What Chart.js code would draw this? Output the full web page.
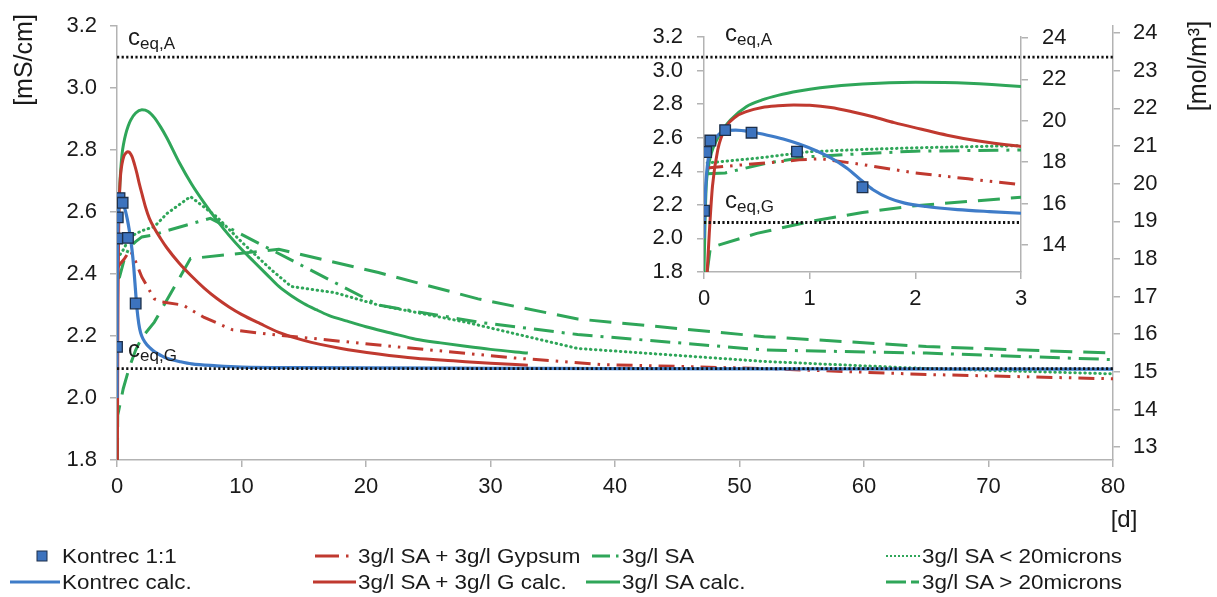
<!DOCTYPE html>
<html>
<head>
<meta charset="utf-8">
<script src="https://cdn.jsdelivr.net/npm/chart.js@4.4.1/dist/chart.umd.min.js"></script>
<style>
  html, body { margin: 0; padding: 0; background: #fff; }
  #wrap { position: relative; width: 1217px; height: 597px; overflow: hidden;
          font-family: "Liberation Sans", Arial, sans-serif; color: #1a1a1a; }
  #main { position: absolute; left: 0; top: 0; }
  #inset { position: absolute; left: 600px; top: 0; }
  #legendSwatches { position: absolute; left: 0; top: 0; }
  .lg { position: absolute; font-size: 19.5px; line-height: 24px; white-space: nowrap;
        transform: scaleX(1.15); transform-origin: 0 50%; }
</style>
</head>
<body>
<div id="wrap">
  <canvas id="main" width="1217" height="597"></canvas>
  <canvas id="inset" width="500" height="330"></canvas>
  <svg id="legendSwatches" width="1217" height="597"></svg>
  <div id="legendText"></div>
</div>
<script>
// ---- measured conductivity, Kontrec 1:1 (days, mS/cm)
const kontrecDays = [0, 0.02, 0.06, 0.2, 0.45, 0.88, 1.5];
const kontrecCond = [2.165, 2.515, 2.583, 2.645, 2.63, 2.517, 2.305];

// ---- Kontrec calc.
const kontrecCalcDays = [0, 0.005, 0.01, 0.02, 0.035, 0.05, 0.075, 0.1, 0.15, 0.2,
  0.3, 0.45, 0.6, 0.75, 0.9, 1.05, 1.2, 1.35, 1.5, 1.6,
  1.75, 1.9, 2.1, 2.4, 2.7, 3.0, 3.5, 4, 5, 6,
  8, 10, 15, 20, 30, 40, 60, 80];
const kontrecCalcCond = [2.0, 2.12, 2.22, 2.35, 2.45, 2.51, 2.56, 2.59, 2.625, 2.642,
  2.645, 2.634, 2.615, 2.592, 2.562, 2.525, 2.48, 2.42, 2.34, 2.29,
  2.24, 2.21, 2.19, 2.172, 2.16, 2.15, 2.138, 2.128, 2.118, 2.11,
  2.104, 2.1, 2.098, 2.097, 2.096, 2.095, 2.094, 2.093];

// ---- 3g/l SA + 3g/l Gypsum (measured)
const gypsumDays = [0.03, 0.3, 0.6, 0.9, 1.1, 1.5, 2.0, 2.5, 3.0, 3.6,
  5.3, 7, 9.3, 12, 15.8, 21, 26.5, 32, 39, 52, 65, 80];
const gypsumCond = [2.42, 2.435, 2.45, 2.468, 2.475, 2.44, 2.39, 2.355, 2.32, 2.31,
  2.30, 2.26, 2.22, 2.207, 2.192, 2.171, 2.15, 2.129, 2.108, 2.095, 2.076, 2.062];

// ---- 3g/l SA + 3g/l G calc.
const gypsumCalcDays = [0.03, 0.05, 0.08, 0.13, 0.21, 0.3, 0.4, 0.55, 0.7, 0.85,
  1.0, 1.2, 1.4, 1.6, 1.8, 2.05, 2.3, 2.6, 3.0, 3.5,
  4, 5, 6, 7, 8, 9, 10, 11.5, 13, 15,
  18, 21, 24, 27, 30, 33];
const gypsumCalcCond = [1.8, 2.03, 2.31, 2.527, 2.666, 2.725, 2.755, 2.78, 2.79, 2.795,
  2.793, 2.78, 2.755, 2.725, 2.69, 2.652, 2.615, 2.58, 2.548, 2.515,
  2.485, 2.435, 2.393, 2.355, 2.322, 2.294, 2.27, 2.24, 2.212, 2.186,
  2.16, 2.142, 2.128, 2.12, 2.112, 2.106];

// ---- 3g/l SA (measured)
const saDays = [0.03, 0.2, 0.6, 1.0, 1.5, 2.0, 3.0, 4.0, 7.5, 21, 29, 37, 52, 65, 80];
const saCond = [2.385, 2.39, 2.45, 2.487, 2.505, 2.52, 2.527, 2.54, 2.58, 2.30, 2.245, 2.205, 2.155, 2.145, 2.124];

// ---- 3g/l SA calc.
const saCalcDays = [0, 0.01, 0.02, 0.04, 0.07, 0.12, 0.18, 0.25, 0.4, 0.55,
  0.7, 0.9, 1.1, 1.5, 2.0, 2.5, 3.0, 3.5, 4, 5,
  6, 7, 8, 9, 10, 11, 12, 13, 14, 15,
  16, 17, 18.5, 20, 22, 24, 26, 28, 30, 33];
const saCalcCond = [1.8, 2.1, 2.3, 2.42, 2.51, 2.586, 2.65, 2.706, 2.785, 2.825,
  2.852, 2.878, 2.897, 2.92, 2.93, 2.925, 2.905, 2.875, 2.84, 2.76,
  2.69, 2.63, 2.575, 2.525, 2.48, 2.44, 2.4, 2.36, 2.33, 2.305,
  2.285, 2.267, 2.248, 2.23, 2.21, 2.19, 2.178, 2.167, 2.157, 2.145];

// ---- 3g/l SA < 20microns (measured)
const fineDays = [0.03, 0.5, 1, 1.5, 2, 3, 4, 5.9, 8, 10.1, 12.5, 14, 17.5, 21, 28, 37, 52, 65, 80];
const fineCond = [2.45, 2.478, 2.517, 2.53, 2.54, 2.553, 2.595, 2.65, 2.585, 2.5, 2.41, 2.36, 2.34, 2.30, 2.245, 2.16, 2.118, 2.095, 2.078];

// ---- 3g/l SA > 20microns (measured)
const coarseDays = [0.03, 0.06, 0.5, 1, 1.5, 2, 3, 5.9, 13, 21, 29, 37, 52, 65, 80];
const coarseCond = [1.8, 1.945, 2.03, 2.1, 2.155, 2.195, 2.245, 2.45, 2.48, 2.405, 2.32, 2.255, 2.198, 2.166, 2.145];

// ---- equilibrium conductivities
const ceqDays = [0, 80];
const ceqA = 3.1;
const ceqG = 2.095;

// ---- tick labels
const dayTicksMain = [0, 10, 20, 30, 40, 50, 60, 70, 80];
const dayTicksInset = [0, 1, 2, 3];
const condTicks = [1.8, 2.0, 2.2, 2.4, 2.6, 2.8, 3.0, 3.2];
const molTicksMain = [13, 14, 15, 16, 17, 18, 19, 20, 21, 22, 23, 24];
const molTicksInset = [14, 16, 18, 20, 22, 24];

const FONT = '"Liberation Sans", Arial, sans-serif';
const TEXT = '#1a1a1a';
const AXIS = '#b3b3b3';
const BLUE = '#3f7cc8';
const BLUE_MARK = '#3d73be';
const RED = '#c0392f';
const GREEN = '#2fa659';

Chart.defaults.font.family = FONT;
Chart.defaults.color = TEXT;

const pts = (xs, ys) => xs.map((x, i) => ({ x, y: ys[i] }));

// smooth = model curve, otherwise straight segments between measurements
function lineSet(label, xs, ys, color, dash, width, order, smooth, cap) {
  const ds = {
    label, data: pts(xs, ys), showLine: true,
    borderColor: color, backgroundColor: color,
    borderWidth: width, borderDash: dash || [], borderCapStyle: cap || 'butt',
    pointRadius: 0, pointHoverRadius: 0, fill: false, tension: 0, order
  };
  if (smooth) ds.cubicInterpolationMode = 'monotone';
  return ds;
}

// withUpperLimit: the inset shares the main chart's c_eq,A line, so it leaves its own out
function buildDatasets(withUpperLimit) {
  const sets = [
    {
      label: 'Kontrec 1:1', data: pts(kontrecDays, kontrecCond), showLine: false,
      pointStyle: 'rect', pointRadius: 7.5, pointHoverRadius: 7.5,
      pointBackgroundColor: BLUE_MARK, pointBorderColor: '#1c2f4a', pointBorderWidth: 1.3,
      order: 0
    },
    lineSet('c_eq,G', ceqDays, [ceqG, ceqG], '#111111', [2.2, 2.4], 2.8, 1),
    lineSet('Kontrec calc.', kontrecCalcDays, kontrecCalcCond, BLUE, null, 3.2, 2, true),
    lineSet('3g/l SA + 3g/l Gypsum', gypsumDays, gypsumCond, RED, [16, 7, 2.5, 7, 2.5, 7], 3, 3),
    lineSet('3g/l SA + 3g/l G calc.', gypsumCalcDays, gypsumCalcCond, RED, null, 3, 3, true),
    lineSet('3g/l SA', saDays, saCond, GREEN, [20, 8, 3, 8], 3, 4),
    lineSet('3g/l SA calc.', saCalcDays, saCalcCond, GREEN, null, 3, 4, true),
    lineSet('3g/l SA < 20microns', fineDays, fineCond, GREEN, [0.5, 4.5], 3, 4, false, 'round'),
    lineSet('3g/l SA > 20microns', coarseDays, coarseCond, GREEN, [22, 11], 3, 4)
  ];
  if (withUpperLimit) {
    sets.splice(1, 0, lineSet('c_eq,A', ceqDays, [ceqA, ceqA], '#111111', [2.2, 2.4], 2.8, 1));
  }
  return sets;
}

function fixedTicks(values) {
  return (scale) => { scale.ticks = values.map(v => ({ value: v })); };
}

function axis(extra, tickPad) {
  return Object.assign({
    type: 'linear',
    grid: { drawOnChartArea: false, drawTicks: true, tickLength: 7, color: AXIS, lineWidth: 1.5 },
    border: { display: true, color: AXIS, width: 1.5 },
    ticks: { color: TEXT, font: { size: 22, family: FONT }, autoSkip: false, maxRotation: 0, padding: tickPad }
  }, extra);
}

// draws the c_eq labels and free-standing axis titles
const notesPlugin = {
  id: 'notes',
  afterDraw(chart, args, opts) {
    const { ctx, scales } = chart;
    ctx.save();
    ctx.fillStyle = TEXT;
    ctx.textBaseline = 'alphabetic';
    ctx.textAlign = 'left';
    for (const lab of (opts.ceq || [])) {
      const x = scales.x.getPixelForValue(0) + lab.dx;
      const y = scales.y.getPixelForValue(lab.value) + lab.dy;
      ctx.font = `24px ${FONT}`;
      ctx.fillText('c', x, y);
      const w = ctx.measureText('c').width;
      ctx.font = `17px ${FONT}`;
      ctx.fillText(lab.sub, x + w, y + 4);
    }
    ctx.textAlign = 'center';
    ctx.textBaseline = 'middle';
    for (const t of (opts.titles || [])) {
      ctx.save();
      ctx.translate(t.x, t.y);
      if (t.rotate) ctx.rotate(t.rotate);
      ctx.font = `${t.size}px ${FONT}`;
      ctx.fillText(t.text, 0, 0);
      ctx.restore();
    }
    ctx.restore();
  }
};

// main chart, 0 - 80 days
new Chart(document.getElementById('main'), {
  type: 'scatter',
  data: { datasets: buildDatasets(true) },
  plugins: [notesPlugin],
  options: {
    responsive: false, animation: false, events: [],
    layout: { padding: { left: 0, right: 0, top: 20, bottom: 97 } },
    plugins: {
      legend: { display: false }, tooltip: { enabled: false },
      notes: {
        ceq: [
          { value: ceqA, sub: 'eq,A', dx: 11, dy: -12 },
          { value: ceqG, sub: 'eq,G', dx: 11, dy: -12 }
        ],
        titles: [
          { text: '[mS/cm]', x: 25, y: 60, rotate: -Math.PI / 2, size: 25 },
          { text: '[mol/m\u00B3]', x: 1199, y: 66, rotate: -Math.PI / 2, size: 25 },
          { text: '[d]', x: 1124, y: 520, size: 24 }
        ]
      }
    },
    scales: {
      x: axis({
        min: 0, max: 80, afterBuildTicks: fixedTicks(dayTicksMain),
        afterFit: s => { s.height = 40; }
      }, 7),
      y: axis({
        position: 'left', min: 1.8, max: 3.2, afterBuildTicks: fixedTicks(condTicks),
        afterFit: s => { s.width = 117; }
      }, 13),
      y2: axis({
        position: 'right', min: 12.66, max: 24.18, afterBuildTicks: fixedTicks(molTicksMain),
        afterFit: s => { s.width = 104; }
      }, 13)
    }
  }
});

// inset, first 3 days
new Chart(document.getElementById('inset'), {
  type: 'scatter',
  data: { datasets: buildDatasets(false) },
  plugins: [notesPlugin],
  options: {
    responsive: false, animation: false, events: [],
    layout: { padding: { left: 0, right: 0, top: 37, bottom: 18 } },
    plugins: {
      legend: { display: false }, tooltip: { enabled: false },
      notes: {
        ceq: [
          { value: ceqA, sub: 'eq,A', dx: 21, dy: -13 },
          { value: ceqG, sub: 'eq,G', dx: 21, dy: -14 }
        ]
      }
    },
    scales: {
      x: axis({
        min: 0, max: 3, afterBuildTicks: fixedTicks(dayTicksInset),
        afterFit: s => { s.height = 40; }
      }, 7),
      y: axis({
        position: 'left', min: 1.8, max: 3.2, afterBuildTicks: fixedTicks(condTicks),
        afterFit: s => { s.width = 104; }
      }, 14),
      y2: axis({
        position: 'right', min: 12.69, max: 24.05, afterBuildTicks: fixedTicks(molTicksInset),
        afterFit: s => { s.width = 79; }
      }, 14)
    }
  }
});

// legend: two rows, four columns
const legendItems = [
  { label: 'Kontrec 1:1', kind: 'square', color: BLUE_MARK, col: 0, row: 0 },
  { label: 'Kontrec calc.', kind: 'line', color: BLUE, col: 0, row: 1 },
  { label: '3g/l SA + 3g/l Gypsum', kind: 'line', color: RED, dash: '24 7 2.5 60', col: 1, row: 0, start: 315 },
  { label: '3g/l SA + 3g/l G calc.', kind: 'line', color: RED, col: 1, row: 1 },
  { label: '3g/l SA', kind: 'line', color: GREEN, dash: '18 6 2.5 60', col: 2, row: 0, start: 592 },
  { label: '3g/l SA calc.', kind: 'line', color: GREEN, col: 2, row: 1 },
  { label: '3g/l SA < 20microns', kind: 'line', color: GREEN, dash: '2 2', width: 2, col: 3, row: 0 },
  { label: '3g/l SA > 20microns', kind: 'line', color: GREEN, dash: '20 5 8 60', col: 3, row: 1 }
];
const legendCols = [{ sw: 10, tx: 62 }, { sw: 313, tx: 358 }, { sw: 586, tx: 622 }, { sw: 886, tx: 922 }];
const legendRows = [556, 582];

const svgNS = 'http://www.w3.org/2000/svg';
const svg = document.getElementById('legendSwatches');
const textBox = document.getElementById('legendText');
for (const it of legendItems) {
  const c = legendCols[it.col];
  const y = legendRows[it.row];
  if (it.kind === 'square') {
    const r = document.createElementNS(svgNS, 'rect');
    r.setAttribute('x', 37); r.setAttribute('y', y - 5);
    r.setAttribute('width', 10); r.setAttribute('height', 10);
    r.setAttribute('fill', it.color); r.setAttribute('stroke', '#1c2f4a'); r.setAttribute('stroke-width', 1);
    svg.appendChild(r);
  } else {
    const l = document.createElementNS(svgNS, 'line');
    l.setAttribute('x1', it.start || c.sw); l.setAttribute('x2', c.tx - 2);
    l.setAttribute('y1', y); l.setAttribute('y2', y);
    l.setAttribute('stroke', it.color); l.setAttribute('stroke-width', it.width || 3);
    if (it.dash) l.setAttribute('stroke-dasharray', it.dash);
    svg.appendChild(l);
  }
  const s = document.createElement('div');
  s.className = 'lg';
  s.textContent = it.label;
  s.style.left = c.tx + 'px';
  s.style.top = (y - 12) + 'px';
  textBox.appendChild(s);
}
</script>
</body>
</html>
